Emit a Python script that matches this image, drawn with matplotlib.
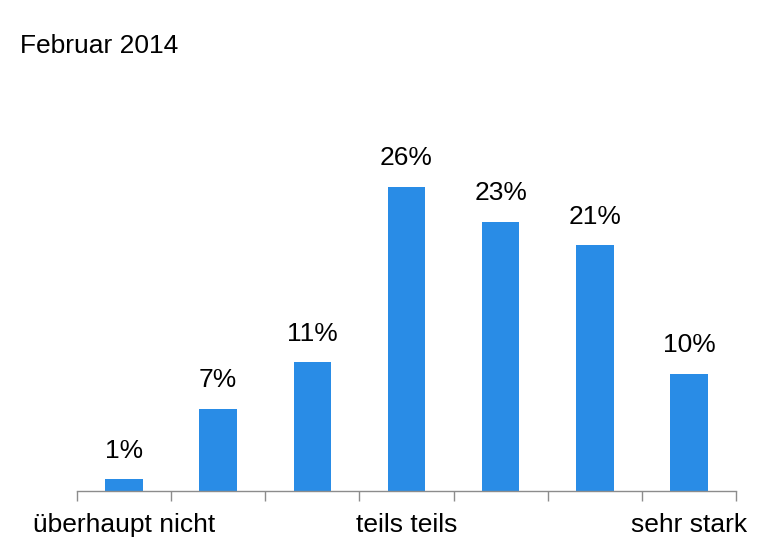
import numpy as np
import matplotlib
matplotlib.use("Agg")
import matplotlib.pyplot as plt

categories = ["1", "2", "3", "4", "5", "6", "7"]
values = [1, 7, 11, 26, 23, 21, 10]
tick_labels = {0: "überhaupt nicht", 3: "teils teils", 6: "sehr stark"}
title = "Februar 2014"

plt.rcParams["font.family"] = ["Liberation Sans", "DejaVu Sans"]

fig = plt.figure(figsize=(7.63, 5.38), dpi=100)
ax = fig.add_axes([77 / 763, 47 / 538, 659 / 763, 351 / 538])

x = np.arange(len(categories))
bars = ax.bar(x, values, width=0.4, color="#298CE6")

for xi, v in zip(x, values):
    ax.annotate(f"{v}%", (xi, v), xytext=(0, 12), textcoords="offset points",
                ha="center", va="bottom", fontsize=19, color="black")

ax.set_xlim(-0.5, len(categories) - 0.5)
ax.set_ylim(0, 30)

for side in ["top", "right", "left"]:
    ax.spines[side].set_visible(False)
ax.spines["bottom"].set_color("#8c8c8c")
ax.spines["bottom"].set_linewidth(1.0)
ax.set_yticks([])

ax.set_xticks(list(tick_labels.keys()))
ax.set_xticklabels(list(tick_labels.values()), fontsize=19)
ax.set_xticks(np.arange(-0.5, len(categories)), minor=True)
ax.tick_params(axis="x", which="major", length=0, pad=16)
ax.tick_params(axis="x", which="minor", length=7, color="#8c8c8c", width=1.0)

fig.text(20 / 763, 1 - 46 / 538, title, ha="left", va="center", fontsize=19)

fig.savefig("out.png", dpi=100)
